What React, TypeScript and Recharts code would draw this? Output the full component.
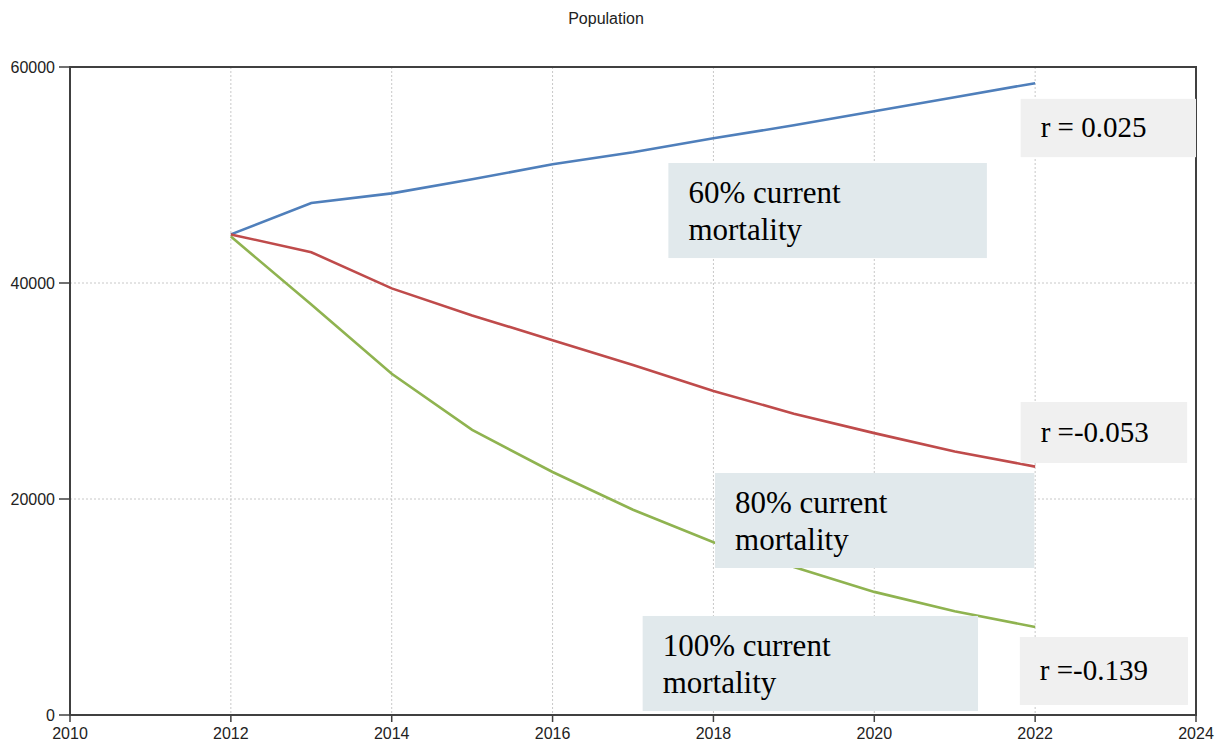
import { LineChart, Line, XAxis, YAxis, CartesianGrid, ReferenceArea } from 'recharts';

const years = [2012, 2013, 2014, 2015, 2016, 2017, 2018, 2019, 2020, 2021, 2022];
const mortality60 = [44500, 47400, 48300, 49600, 51000, 52100, 53400, 54600, 55900, 57200, 58500];
const mortality80 = [44500, 42850, 39500, 37000, 34700, 32400, 30000, 27900, 26100, 24400, 23000];
const mortality100 = [44300, 38000, 31600, 26400, 22500, 19000, 16000, 13700, 11400, 9600, 8150];

const xTicks = [2010, 2012, 2014, 2016, 2018, 2020, 2022, 2024];
const yTicks = [0, 20000, 40000, 60000];
const title = 'Population';

// text boxes drawn over the plot (chart units)
const rNotes = [
  { x1: 2021.82, x2: 2024, y1: 51650, y2: 57050, text: 'r = 0.025' },
  { x1: 2021.82, x2: 2023.89, y1: 23330, y2: 28980, text: 'r =-0.053' },
  { x1: 2021.81, x2: 2023.9, y1: 930, y2: 7220, text: 'r =-0.139' },
];
const mortalityNotes = [
  { x1: 2017.44, x2: 2021.4, y1: 42310, y2: 51110, lines: ['60% current', 'mortality'] },
  { x1: 2018.02, x2: 2021.99, y1: 13610, y2: 22410, lines: ['80% current', 'mortality'] },
  { x1: 2017.12, x2: 2021.29, y1: 370, y2: 9170, lines: ['100% current', 'mortality'] },
];

const chartData = years.map((year, i) => ({
  year,
  m60: mortality60[i],
  m80: mortality80[i],
  m100: mortality100[i],
}));

const tickStyle = { fontFamily: '"Liberation Sans", Arial, sans-serif', fontSize: 16, fill: '#222' };
const serif = '"Liberation Serif", "Times New Roman", serif';

const rBox = (text: string) => (props: any) => {
  const { x, y, width, height } = props;
  return (
    <g>
      <rect x={x} y={y} width={width} height={height} fill="#f0f0f0" />
      <text x={x + 20} y={y + height / 2 + 9} fontFamily={serif} fontSize={29} fill="#000">
        {text}
      </text>
    </g>
  );
};

const mortalityBox = (lines: string[]) => (props: any) => {
  const { x, y, width, height } = props;
  return (
    <g>
      <rect x={x} y={y} width={width} height={height} fill="#e1e9ec" />
      {lines.map((line, i) => (
        <text key={i} x={x + 20} y={y + 40 + i * 37} fontFamily={serif} fontSize={31} fill="#000">
          {line}
        </text>
      ))}
    </g>
  );
};

export default function App() {
  return (
    <div style={{ position: 'absolute', left: 0, top: 0, width: 1221, height: 746, background: '#fff' }}>
      <div
        style={{
          position: 'absolute',
          left: 0,
          top: 10,
          width: 1212,
          textAlign: 'center',
          fontFamily: '"Liberation Sans", Arial, sans-serif',
          fontSize: 16,
          color: '#222',
        }}
      >
        {title}
      </div>
      <LineChart width={1221} height={746} data={chartData} margin={{ top: 67, right: 25, bottom: 0, left: 0 }}>
        <CartesianGrid stroke="#c8c8c8" strokeDasharray="2 2" horizontalValues={yTicks} verticalValues={xTicks} />
        <XAxis
          dataKey="year"
          type="number"
          domain={[2010, 2024]}
          ticks={xTicks}
          height={31}
          tick={tickStyle}
          tickSize={7}
          tickMargin={6}
          stroke="#404040"
          axisLine={{ stroke: '#404040', strokeWidth: 2 }}
          tickLine={{ stroke: '#404040', strokeWidth: 1.5 }}
        />
        <YAxis
          type="number"
          domain={[0, 60000]}
          ticks={yTicks}
          width={70}
          tick={tickStyle}
          tickSize={11}
          tickMargin={4}
          axisLine={{ stroke: '#404040', strokeWidth: 2 }}
          tickLine={{ stroke: '#404040', strokeWidth: 1.5 }}
        />
        <ReferenceArea x1={2010} x2={2024} y1={0} y2={60000} fill="none" stroke="#404040" strokeWidth={2} ifOverflow="visible" />
        <Line dataKey="m60" stroke="#4f7fbb" strokeWidth={2.6} dot={false} isAnimationActive={false} />
        <Line dataKey="m80" stroke="#bf4b4b" strokeWidth={2.6} dot={false} isAnimationActive={false} />
        <Line dataKey="m100" stroke="#8fb350" strokeWidth={2.6} dot={false} isAnimationActive={false} />
        {mortalityNotes.map((n, i) => (
          <ReferenceArea
            key={`m${i}`}
            x1={n.x1}
            x2={n.x2}
            y1={n.y1}
            y2={n.y2}
            ifOverflow="visible"
            zIndex={1000}
            shape={mortalityBox(n.lines)}
          />
        ))}
        {rNotes.map((n, i) => (
          <ReferenceArea
            key={`r${i}`}
            x1={n.x1}
            x2={n.x2}
            y1={n.y1}
            y2={n.y2}
            ifOverflow="visible"
            zIndex={1000}
            shape={rBox(n.text)}
          />
        ))}
      </LineChart>
    </div>
  );
}
